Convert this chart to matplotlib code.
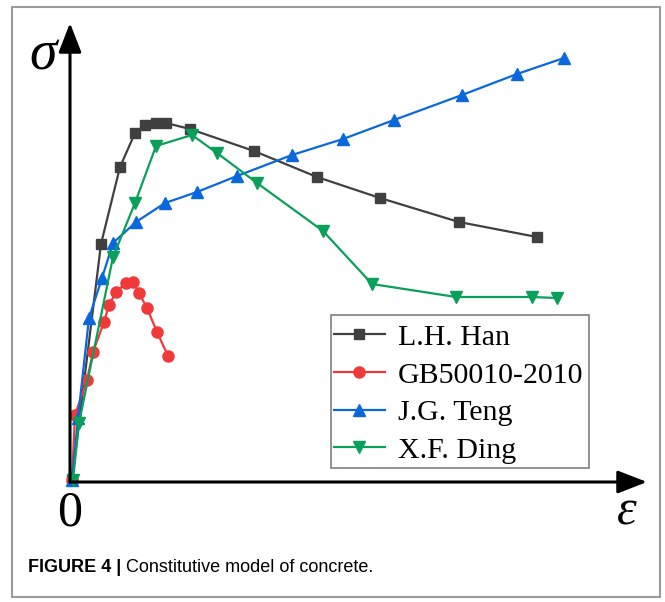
import matplotlib.pyplot as plt
from matplotlib.patches import Rectangle

# strain / stress (arbitrary units, origin at the axes corner)
han_x = [2, 31, 50, 65, 75, 86, 96, 120, 184, 247, 310, 389, 467]
han_y = [2, 238, 315, 349, 357, 359, 359, 353, 331, 305, 284, 260, 245]

gb_x = [2, 5, 17, 23, 34, 39, 46, 56, 63, 69, 77, 87, 98]
gb_y = [2, 67, 102, 130, 160, 177, 190, 199, 200, 189, 174, 150, 126]

teng_x = [2, 8, 19, 32, 43, 66, 95, 127, 167, 222, 273, 324, 392, 447, 494]
teng_y = [2, 64, 164, 204, 239, 260, 279, 290, 306, 327, 343, 362, 387, 408, 424]

ding_x = [3, 9, 43, 65, 86, 122, 147, 187, 253, 302, 386, 462, 487]
ding_y = [2, 59, 225, 279, 336, 347, 329, 299, 251, 198, 185, 185, 184]

labels = ["L.H. Han", "GB50010-2010", "J.G. Teng", "X.F. Ding"]
colors = ["#404040", "#f03a3a", "#0a68dc", "#0aa05a"]

serif = "Liberation Serif"

fig = plt.figure(figsize=(6.65, 6.02), dpi=100)
W, H = 665, 602
ax = fig.add_axes([70 / W, (H - 482) / H, 577 / W, 459 / H])
ax.set_xlim(0, 577)
ax.set_ylim(0, 459)
ax.axis("off")

ax.plot(han_x, han_y, "-s", color=colors[0], lw=1.6, ms=7, label=labels[0], clip_on=False)
ax.plot(gb_x, gb_y, "-o", color=colors[1], lw=1.6, ms=8, label=labels[1], clip_on=False)
ax.plot(teng_x, teng_y, "-^", color=colors[2], lw=1.6, ms=9, label=labels[2], clip_on=False)
ax.plot(ding_x, ding_y, "-v", color=colors[3], lw=1.6, ms=9, label=labels[3], clip_on=False)

# axis arrows
arrow = dict(arrowstyle="-|>,head_length=0.9,head_width=0.35", color="black",
             lw=2.2, shrinkA=0, shrinkB=0, mutation_scale=20)
ax.annotate("", xy=(0, 1), xytext=(0, 0), xycoords="axes fraction",
            arrowprops=arrow, annotation_clip=False)
ax.annotate("", xy=(1, 0), xytext=(0, 0), xycoords="axes fraction",
            arrowprops=arrow, annotation_clip=False)

fig.text(43 / W, 1 - 55 / H, "σ", family=serif, style="italic", fontsize=40,
         ha="center", va="center")
fig.text(70 / W, 1 - 513 / H, "0", family=serif, fontsize=36,
         ha="center", va="center")
fig.text(627 / W, 1 - 512 / H, "ε", family=serif, style="italic", fontsize=36,
         ha="center", va="center")

# legend without its own frame; the box is drawn separately
leg = ax.legend(loc="upper left", bbox_to_anchor=(331 / W, 1 - 321 / H),
                bbox_transform=fig.transFigure, borderaxespad=0,
                prop={"family": serif, "size": 21.5}, frameon=False,
                handlelength=1.7, handletextpad=0.45,
                borderpad=0.1, labelspacing=0.36)
fig.patches.append(Rectangle((331 / W, 1 - 468 / H), 258 / W, 153 / H,
                             transform=fig.transFigure, fill=False,
                             edgecolor="#808080", lw=1.2))

# outer border and caption
fig.patches.append(Rectangle((12 / W, 1 - 597 / H), 648 / W, 590 / H,
                             transform=fig.transFigure, fill=False,
                             edgecolor="#9a9a9a", lw=1.5))
cap = fig.text(28 / W, 1 - 568 / H, "FIGURE 4 |", family="Liberation Sans",
               weight="bold", fontsize=13, ha="left", va="center")
ax.annotate(" Constitutive model of concrete.", xy=(1, 0.5), xycoords=cap,
            family="Liberation Sans", fontsize=13, ha="left", va="center",
            annotation_clip=False)

fig.savefig("out.png", dpi=100)
